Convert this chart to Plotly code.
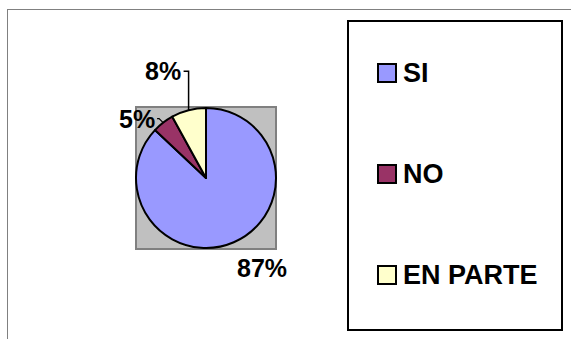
import math
import plotly.graph_objects as go

# ---- data ----
categories = ["SI", "NO", "EN PARTE"]
values = [87, 5, 8]
colors = ["#9999FF", "#993366", "#FFFFCC"]

W, H = 571, 339
FONT = "Liberation Sans, Arial, sans-serif"
FS = 25
FS_LEG = 27

def px(x):
    return x / W

def py(y):
    return 1 - y / H

# pie geometry (pixels)
cx, cy, r = 206, 178, 70

fig = go.Figure()
fig.add_trace(go.Pie(
    labels=categories, values=values, sort=False, direction="clockwise",
    rotation=0, textinfo="none", hoverinfo="label+percent",
    marker=dict(colors=colors, line=dict(color="black", width=2)),
    domain=dict(x=[px(cx - r), px(cx + r)], y=[py(cy + r), py(cy - r)]),
    showlegend=False,
))

shapes = []
annotations = []

# outer chart frame (top and left visible)
shapes.append(dict(type="line", xref="paper", yref="paper", x0=px(7), x1=px(W), y0=py(9.5), y1=py(9.5),
                   line=dict(color="#808080", width=1)))
shapes.append(dict(type="line", xref="paper", yref="paper", x0=px(7.5), x1=px(7.5), y0=py(9.5), y1=py(H),
                   line=dict(color="#808080", width=1)))

# gray plot area behind pie
shapes.append(dict(type="rect", xref="paper", yref="paper", layer="below",
                   x0=px(cx - r), x1=px(cx + r), y0=py(cy + r + 1), y1=py(cy - r - 1),
                   fillcolor="#C0C0C0", line=dict(color="#808080", width=2)))

# percentage labels computed from slice angles
label_style = {
    "SI": dict(dx=28, dy=26, leader=None),
    "NO": dict(dx=-27, dy=-5, leader="short"),
    "EN PARTE": dict(dx=-28, dy=-39, leader="elbow"),
}
total = sum(values)
cum = 0
for cat, v in zip(categories, values):
    mid = (cum + v / 2) / total * 2 * math.pi
    cum += v
    ex = cx + r * math.sin(mid)
    ey = cy - r * math.cos(mid)
    st = label_style[cat]
    pct = f"{round(v / total * 100)}%"
    tx, ty = ex + st["dx"], ey + st["dy"]
    if st["leader"] == "elbow":
        top = ey - 39
        shapes.append(dict(type="path", xref="paper", yref="paper",
                           path=f"M {px(ex)} {py(ey)} L {px(ex)} {py(top)} L {px(ex - 5)} {py(top)}",
                           line=dict(color="black", width=1.5)))
        tx, ty = ex - 26, top
    elif st["leader"] == "short":
        shapes.append(dict(type="path", xref="paper", yref="paper",
                           path=f"M {px(ex)} {py(ey)} L {px(ex - 4)} {py(ey - 4)} L {px(ex - 6)} {py(ey - 4)}",
                           line=dict(color="black", width=1.2)))
        tx, ty = ex - 26, ey - 4
    annotations.append(dict(x=px(tx), y=py(ty), xref="paper", yref="paper", text=f"<b>{pct}</b>",
                            showarrow=False, xanchor="center", yanchor="middle",
                            font=dict(family=FONT, size=FS, color="black")))

# legend box
shapes.append(dict(type="rect", xref="paper", yref="paper",
                   x0=px(348), x1=px(562), y0=py(330), y1=py(21),
                   fillcolor="white", line=dict(color="black", width=2)))
for i, (cat, col) in enumerate(zip(categories, colors)):
    yc = 73 + i * 101
    shapes.append(dict(type="rect", xref="paper", yref="paper",
                       x0=px(378), x1=px(396), y0=py(yc + 9), y1=py(yc - 9),
                       fillcolor=col, line=dict(color="black", width=2)))
    annotations.append(dict(x=px(401), y=py(yc), xref="paper", yref="paper", text=f"<b>{cat}</b>",
                            showarrow=False, xanchor="left", yanchor="middle",
                            font=dict(family=FONT, size=FS_LEG, color="black")))

fig.update_layout(
    width=W, height=H, margin=dict(l=0, r=0, t=0, b=0),
    paper_bgcolor="white", plot_bgcolor="white",
    shapes=shapes, annotations=annotations,
)
fig.write_html("out.html", config={"displayModeBar": False},
               post_script="document.body.style.margin='0px';")
